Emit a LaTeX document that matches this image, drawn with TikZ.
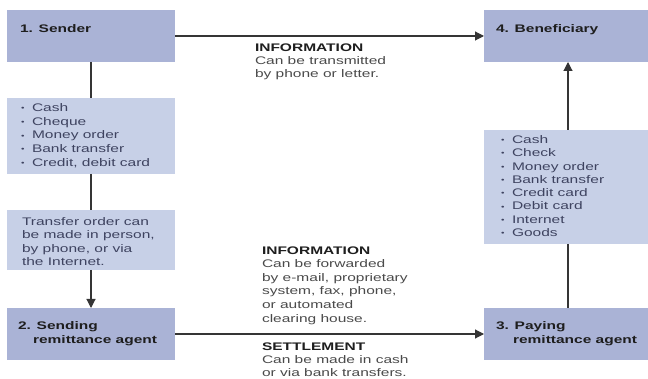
\documentclass[tikz,border=0pt]{standalone}
\usepackage{fontspec}
\setmainfont{Liberation Sans}[FakeStretch=1.41]
\usetikzlibrary{arrows.meta}
\definecolor{boxdark}{HTML}{AAB3D6}
\definecolor{boxlight}{HTML}{C7D0E7}
\definecolor{linecol}{HTML}{353535}
\definecolor{listtext}{HTML}{3E4360}
\definecolor{bodytext}{HTML}{4A4A4A}
\definecolor{headtext}{HTML}{1E1E1E}
\newcommand\bulitem[1]{\makebox[11pt][l]{\raisebox{0.8pt}{\fontsize{7}{7}\selectfont\textbullet}}#1}
\begin{document}
\begin{tikzpicture}[x=1pt,y=1pt,
  darkbox/.style={fill=boxdark,draw=none,inner sep=0,outer sep=0,anchor=north west,minimum width=168pt},
  lightbox/.style={fill=boxlight,draw=none,inner sep=0,outer sep=0,anchor=north west,minimum width=168pt},
  txt/.style={anchor=north west,inner sep=0,outer sep=0,align=left,font=\fontsize{11}{13.3}\selectfont},
  head/.style={txt,text=headtext,font=\fontsize{11}{12}\selectfont\bfseries},
  headline/.style={anchor=base west,inner sep=0,outer sep=0,text=headtext,font=\fontsize{11}{12}\selectfont\bfseries},
  listtxt/.style={txt,text=listtext},
  note/.style={txt,text=bodytext},
  conn/.style={draw=linecol,line width=1.1pt},
  tip/.style={-{Triangle[length=9pt,width=9pt]}}
]
\useasboundingbox (0,0) rectangle (648,-379);
\clip (0,0) rectangle (648,-379);

% boxes
\node[darkbox,minimum height=52pt] (sender) at (7,-10) {};
\node[lightbox,minimum height=76pt] (slist) at (7,-98) {};
\node[lightbox,minimum height=60pt] (transfer) at (7,-210) {};
\node[darkbox,minimum height=52pt] (sagent) at (7,-308) {};
\node[darkbox,minimum height=52pt] (benef) at (484,-10) {};
\node[lightbox,minimum height=114pt] (blist) at (484,-130) {};
\node[darkbox,minimum height=52pt] (pagent) at (484,-308) {};

% box texts
\node[head] (sendertxt) at (20,-24.5) {1. Sender};
\node[listtxt,font=\fontsize{11}{13.7}\selectfont] (slisttxt) at (21,-103.5) {\bulitem{Cash}\\\bulitem{Cheque}\\\bulitem{Money order}\\\bulitem{Bank transfer}\\\bulitem{Credit, debit card}};
\node[listtxt] (transfertxt) at (22,-217.5) {Transfer order can\\be made in person,\\by phone, or via\\the Internet.};
\node[headline] (sagenttxta) at (18,-329.5) {2. Sending};
\node[headline] (sagenttxtb) at (33,-344) {remittance agent};
\node[head] (beneftxt) at (496,-24.5) {4. Beneficiary};
\node[listtxt] (blisttxt) at (501,-135.5) {\bulitem{Cash}\\\bulitem{Check}\\\bulitem{Money order}\\\bulitem{Bank transfer}\\\bulitem{Credit card}\\\bulitem{Debit card}\\\bulitem{Internet}\\\bulitem{Goods}};
\node[headline] (pagenttxta) at (496,-329.5) {3. Paying};
\node[headline] (pagenttxtb) at (513,-344) {remittance agent};

% connector labels
\node[note] (info1) at (255,-43.5) {\textcolor{headtext}{\bfseries INFORMATION}\\Can be transmitted\\by phone or letter.};
\node[note,font=\fontsize{11}{13.6}\selectfont] (info2) at (262,-246.5) {\textcolor{headtext}{\bfseries INFORMATION}\\Can be forwarded\\by e-mail, proprietary\\system, fax, phone,\\or automated\\clearing house.};
\node[note] (settle) at (262,-342.5) {\textcolor{headtext}{\bfseries SETTLEMENT}\\Can be made in cash\\or via bank transfers.};

% connectors
\draw[conn,tip] (sender.east) -- (benef.west);
\draw[conn] (sender.south) -- (slist.north);
\draw[conn] (slist.south) -- (transfer.north);
\draw[conn,tip] (transfer.south) -- (sagent.north);
\draw[conn,tip] (sagent.east) -- (pagent.west);
\draw[conn] (pagent.north) -- (blist.south);
\draw[conn,tip] (blist.north) -- (benef.south);
\end{tikzpicture}
\end{document}
